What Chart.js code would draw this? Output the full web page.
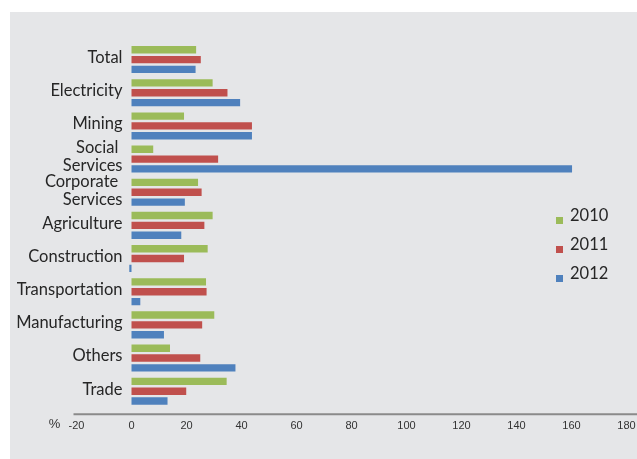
<!DOCTYPE html>
<html>
<head>
<meta charset="utf-8">
<script src="https://cdn.jsdelivr.net/npm/chart.js@4.4.0/dist/chart.umd.min.js"></script>
<style>
    body { margin: 0; background: #fff; }
    #wrap { width: 637px; height: 459px; }
</style>
</head>
<body>
<div id="wrap"><canvas id="growth-chart" width="637" height="459"></canvas></div>
<script>
// Sectors, top to bottom (multi-line names are split into rows)
const sectors = [
    ['Total'],
    ['Electricity'],
    ['Mining'],
    ['Social ', 'Services'],
    ['Corporate ', 'Services'],
    ['Agriculture'],
    ['Construction'],
    ['Transportation'],
    ['Manufacturing'],
    ['Others'],
    ['Trade']
];

const years = ['2010', '2011', '2012'];

// Growth in %, one array per year
const growth2010 = [23.5, 29.5, 19.1, 7.9, 24.2, 29.5, 27.7, 27.1, 30.1, 14.0, 34.6];
const growth2011 = [25.2, 34.9, 43.8, 31.5, 25.5, 26.5, 19.1, 27.3, 25.7, 25.0, 19.9];
const growth2012 = [23.3, 39.5, 43.8, 160.2, 19.4, 18.1, -0.8, 3.2, 11.8, 37.8, 13.1];

const xTicks = [-20, 0, 20, 40, 60, 80, 100, 120, 140, 160, 180];

const colors = ['#9bbb59', '#c0504d', '#4f81bd'];
const textColor = '#262626';
const labelFont = '16.5px Lato, "Open Sans", sans-serif';

// grey panel behind everything
const panelPlugin = {
    id: 'panel',
    beforeDraw(chart) {
        const ctx = chart.ctx;
        ctx.save();
        ctx.fillStyle = '#e5e6e8';
        ctx.fillRect(10, 12, chart.width - 10, chart.height - 12);
        ctx.restore();
    }
};

// sector names, right aligned next to the zero line, plus axis line and "%" unit
const labelsPlugin = {
    id: 'sectorLabels',
    afterDraw(chart) {
        const ctx = chart.ctx;
        const yScale = chart.scales.y;
        const xScale = chart.scales.x;
        const area = chart.chartArea;
        ctx.save();

        // axis line sits a little under the plot
        const axisY = area.bottom + 6.5;
        ctx.strokeStyle = '#8a8a8a';
        ctx.lineWidth = 2;
        ctx.beginPath();
        ctx.moveTo(area.left - 3, axisY);
        ctx.lineTo(chart.width, axisY);
        ctx.stroke();

        ctx.fillStyle = textColor;
        ctx.font = labelFont;
        ctx.textAlign = 'right';
        ctx.textBaseline = 'middle';
        const right = xScale.getPixelForValue(0) - 9;
        const lineH = 18;
        sectors.forEach((lines, i) => {
            const cy = yScale.getPixelForTick(i) - 2;
            const top = cy - (lines.length - 1) * lineH / 2;
            lines.forEach((line, j) => {
                ctx.fillText(line, right, top + j * lineH);
            });
        });

        ctx.fillStyle = '#333';
        ctx.font = '13px "Liberation Sans", Arial, sans-serif';
        ctx.textAlign = 'center';
        ctx.fillText('%', 54.5, 424.5);
        ctx.restore();
    }
};

// legend drawn inside the plot on the right
const legendPlugin = {
    id: 'sideLegend',
    afterDraw(chart) {
        const ctx = chart.ctx;
        ctx.save();
        ctx.font = labelFont;
        ctx.textBaseline = 'middle';
        ctx.textAlign = 'left';
        chart.data.datasets.forEach((ds, i) => {
            const y = 216 + i * 29;
            ctx.fillStyle = ds.backgroundColor;
            ctx.fillRect(556, y + 1, 7, 7);
            ctx.fillStyle = textColor;
            ctx.fillText(ds.label, 570, y);
        });
        ctx.restore();
    }
};

const ctx = document.getElementById('growth-chart').getContext('2d');
const growthChart = new Chart(ctx, {
    type: 'bar',
    data: {
        labels: sectors.map(s => s.join('')),
        datasets: [growth2010, growth2011, growth2012].map((values, i) => ({
            label: years[i],
            data: values,
            backgroundColor: colors[i],
            borderWidth: 0,
            categoryPercentage: 0.89,
            barPercentage: 0.75
        }))
    },
    options: {
        indexAxis: 'y',
        responsive: false,
        animation: false,
        layout: {
            padding: { left: 76.5, right: 10.5, top: 43, bottom: 14 }
        },
        plugins: {
            legend: { display: false },
            tooltip: { enabled: false }
        },
        scales: {
            x: {
                min: -20,
                max: 180,
                afterBuildTicks(scale) {
                    scale.ticks = xTicks.map(v => ({ value: v }));
                },
                // let the layout padding alone decide the plot width
                afterFit(scale) {
                    scale.paddingLeft = 0;
                    scale.paddingRight = 0;
                },
                grid: { display: false, drawTicks: false },
                border: { display: false },
                ticks: {
                    padding: 12,
                    color: '#333',
                    font: { family: '"Liberation Sans", Arial, sans-serif', size: 11 },
                    maxRotation: 0,
                    autoSkip: false
                }
            },
            y: {
                display: false,
                grid: { display: false }
            }
        }
    },
    plugins: [panelPlugin, labelsPlugin, legendPlugin]
});
</script>
</body>
</html>
